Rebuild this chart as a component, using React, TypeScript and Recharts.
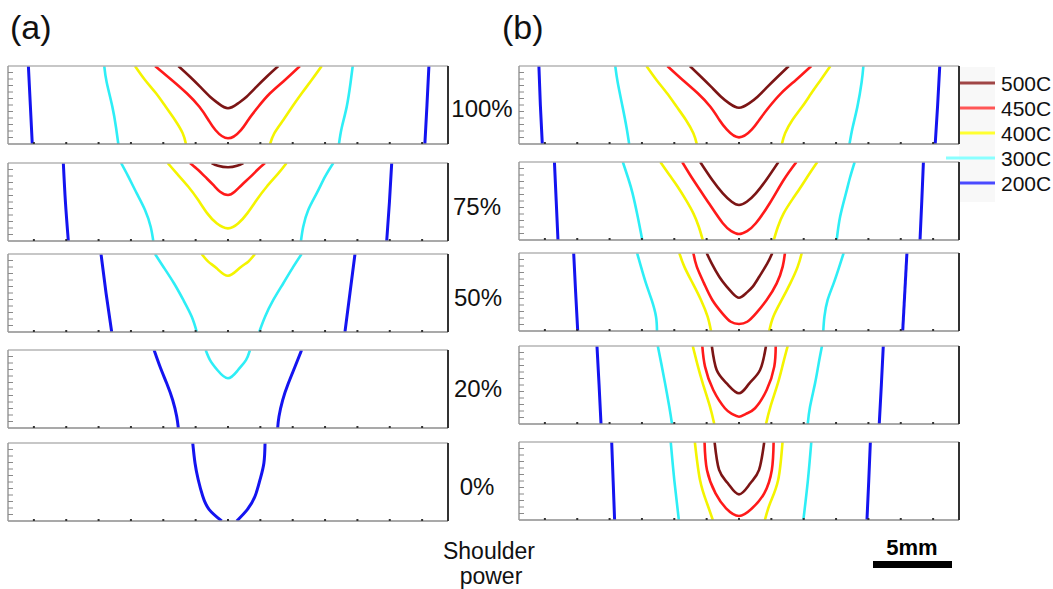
import React from 'react';
import { LineChart, Line, XAxis, YAxis } from 'recharts';

// One isotherm branch: x across the weld (mm, 0 = tool centre), d = depth below the top (mm)
type Contour = { level: string; x: number[]; d: number[] };

const levels = ['500C', '450C', '400C', '300C', '200C'];
const levelColors: Record<string, string> = {
  '500C': '#7c1515',
  '450C': '#ff1a1a',
  '400C': '#f4f400',
  '300C': '#2eeef6',
  '200C': '#1414f0',
};
const legendColors: Record<string, string> = {
  '500C': '#a04646',
  '450C': '#ff5656',
  '400C': '#ffff30',
  '300C': '#8affff',
  '200C': '#4a4aff',
};

const powerLabels = ['100%', '75%', '50%', '20%', '0%'];
const xTicks = [-12, -10, -8, -6, -4, -2, 0, 2, 4, 6, 8, 10, 12];
const depthTicks = [0.4, 0.8, 1.2, 1.6, 2.0, 2.4, 2.8, 3.2, 3.6, 4.0, 4.4];

// (a) column
const a100: Contour[] = [
  { level: '200C', x: [-12.34, -12.22, -12.1], d: [0, 2.4, 4.8] },
  { level: '200C', x: [12.42, 12.3, 12.17], d: [0, 2.4, 4.8] },
  { level: '300C', x: [-7.65, -7.5, -7.15, -6.92, -6.78], d: [0, 1.0, 2.5, 3.8, 4.8] },
  { level: '300C', x: [7.71, 7.58, 7.34, 7.03, 6.86], d: [0, 1.0, 2.5, 3.8, 4.8] },
  { level: '400C', x: [-5.75, -5.13, -4.45, -3.85, -3.28, -2.8, -2.6], d: [0, 0.86, 1.68, 2.51, 3.32, 4.14, 4.8] },
  { level: '400C', x: [5.79, 5.17, 4.56, 3.97, 3.42, 2.86, 2.6], d: [0, 0.86, 1.68, 2.51, 3.32, 4.14, 4.8] },
  { level: '450C', x: [-4.51, -3.48, -2.55, -1.77, -1.21, -0.78, 0, 0.8, 1.25, 1.87, 2.6, 3.52, 4.45], d: [0, 0.86, 1.68, 2.51, 3.32, 3.94, 4.45, 3.94, 3.32, 2.51, 1.68, 0.86, 0] },
  { level: '500C', x: [-3.07, -2.35, -1.73, -1.11, -0.6, 0, 0.62, 1.15, 1.77, 2.39, 3.11], d: [0, 0.66, 1.27, 1.89, 2.3, 2.6, 2.3, 1.89, 1.27, 0.66, 0] },
];

const a75: Contour[] = [
  { level: '200C', x: [-10.18, -10.05, -9.87], d: [0, 2.4, 4.8] },
  { level: '200C', x: [10.12, 9.98, 9.81], d: [0, 2.4, 4.8] },
  { level: '300C', x: [-6.61, -6.16, -5.64, -5.13, -4.78, -4.62], d: [0, 0.84, 1.87, 2.89, 3.92, 4.8] },
  { level: '300C', x: [6.51, 6.0, 5.48, 4.96, 4.65, 4.51], d: [0, 0.84, 1.87, 2.89, 3.92, 4.8] },
  { level: '400C', x: [-3.73, -3.17, -2.45, -1.84, -1.28, -0.7, 0, 0.64, 1.19, 1.77, 2.39, 3.11, 3.62], d: [0, 0.64, 1.46, 2.28, 3.1, 3.71, 4.02, 3.71, 3.1, 2.28, 1.46, 0.64, 0] },
  { level: '450C', x: [-2.35, -1.84, -1.42, -0.91, -0.49, 0, 0.41, 0.85, 1.4, 1.81, 2.29], d: [0, 0.43, 0.84, 1.35, 1.77, 1.97, 1.77, 1.35, 0.84, 0.43, 0] },
  { level: '500C', x: [-1.01, -0.62, 0, 0.56, 0.95], d: [0, 0.17, 0.26, 0.17, 0] },
];

const a50: Contour[] = [
  { level: '200C', x: [-7.85, -7.54, -7.19], d: [0, 2.4, 4.8] },
  { level: '200C', x: [7.85, 7.54, 7.23], d: [0, 2.4, 4.8] },
  { level: '300C', x: [-4.51, -4.0, -3.34, -2.76, -2.24, -1.93], d: [0, 0.78, 1.8, 2.83, 3.86, 4.8] },
  { level: '300C', x: [4.55, 4.04, 3.42, 2.8, 2.29, 1.93], d: [0, 0.78, 1.8, 2.83, 3.86, 4.8] },
  { level: '400C', x: [-1.63, -1.22, -0.7, 0, 0.7, 1.25, 1.67], d: [0, 0.47, 0.88, 1.34, 0.88, 0.47, 0] },
];

const a20: Contour[] = [
  { level: '200C', x: [-4.57, -4.2, -3.79, -3.42, -3.17, -3.07], d: [0, 1.03, 2.05, 3.08, 4.1, 4.8] },
  { level: '200C', x: [4.55, 4.14, 3.73, 3.38, 3.15, 3.07], d: [0, 1.03, 2.05, 3.08, 4.1, 4.8] },
  { level: '300C', x: [-1.38, -1.11, -0.66, 0, 0.62, 1.11, 1.36], d: [0, 0.62, 1.23, 1.74, 1.23, 0.62, 0] },
];

const a0: Contour[] = [
  { level: '200C', x: [-2.18, -2.04, -1.84, -1.56, -1.16, -0.39], d: [0, 1.23, 2.26, 3.28, 4.1, 4.8] },
  { level: '200C', x: [2.29, 2.22, 1.98, 1.67, 1.19, 0.54], d: [0, 1.23, 2.26, 3.28, 4.1, 4.8] },
];

// (b) column
const b100: Contour[] = [
  { level: '200C', x: [-12.37, -12.28, -12.16], d: [0, 2.4, 4.8] },
  { level: '200C', x: [12.41, 12.28, 12.13], d: [0, 2.4, 4.8] },
  { level: '300C', x: [-7.65, -7.5, -7.2, -6.95, -6.79], d: [0, 1.0, 2.5, 3.8, 4.8] },
  { level: '300C', x: [7.69, 7.58, 7.32, 7.02, 6.83], d: [0, 1.0, 2.5, 3.8, 4.8] },
  { level: '400C', x: [-5.72, -5.1, -4.45, -3.85, -3.28, -2.82, -2.61], d: [0, 0.86, 1.68, 2.51, 3.32, 4.14, 4.8] },
  { level: '400C', x: [5.65, 5.05, 4.47, 3.9, 3.3, 2.85, 2.65], d: [0, 0.86, 1.68, 2.51, 3.32, 4.14, 4.8] },
  { level: '450C', x: [-4.43, -3.48, -2.55, -1.77, -1.21, -0.76, 0, 0.8, 1.25, 1.87, 2.6, 3.52, 4.47], d: [0, 0.86, 1.68, 2.51, 3.32, 3.9, 4.39, 3.9, 3.32, 2.51, 1.68, 0.86, 0] },
  { level: '500C', x: [-3.04, -2.35, -1.73, -1.11, -0.6, 0, 0.62, 1.15, 1.77, 2.39, 3.08], d: [0, 0.66, 1.27, 1.89, 2.3, 2.57, 2.3, 1.89, 1.27, 0.66, 0] },
];

const b75: Contour[] = [
  { level: '200C', x: [-11.41, -11.3, -11.19], d: [0, 2.4, 4.8] },
  { level: '200C', x: [11.4, 11.3, 11.19], d: [0, 2.4, 4.8] },
  { level: '300C', x: [-7.18, -6.85, -6.58, -6.26, -5.98], d: [0, 1.0, 1.93, 3.37, 4.8] },
  { level: '300C', x: [7.15, 6.85, 6.61, 6.25, 6.04], d: [0, 1.0, 1.93, 3.37, 4.8] },
  { level: '400C', x: [-4.86, -4.3, -3.79, -3.3, -2.82, -2.48, -2.24], d: [0, 0.8, 1.52, 2.3, 3.16, 4.0, 4.8] },
  { level: '400C', x: [4.84, 4.3, 3.83, 3.3, 2.76, 2.4, 2.15], d: [0, 0.8, 1.52, 2.3, 3.16, 4.0, 4.8] },
  { level: '450C', x: [-3.51, -2.82, -1.86, -1.0, -0.48, 0, 0.5, 1.04, 1.9, 2.76, 3.55], d: [0, 1.11, 2.54, 3.77, 4.25, 4.43, 4.25, 3.77, 2.54, 1.11, 0] },
  { level: '500C', x: [-2.4, -1.65, -1.0, -0.45, 0, 0.48, 1.04, 1.68, 2.44], d: [0, 1.11, 1.93, 2.45, 2.65, 2.45, 1.93, 1.11, 0] },
];

const b50: Contour[] = [
  { level: '200C', x: [-10.22, -10.1, -9.97], d: [0, 2.4, 4.8] },
  { level: '200C', x: [10.38, 10.25, 10.12], d: [0, 2.4, 4.8] },
  { level: '300C', x: [-6.3, -6.06, -5.75, -5.4, -5.13, -5.07], d: [0, 0.84, 1.87, 2.89, 3.92, 4.8] },
  { level: '300C', x: [6.47, 6.2, 5.85, 5.48, 5.28, 5.21], d: [0, 0.84, 1.87, 2.89, 3.92, 4.8] },
  { level: '400C', x: [-3.69, -3.38, -2.86, -2.35, -1.94, -1.73], d: [0, 0.84, 1.87, 2.89, 3.92, 4.8] },
  { level: '400C', x: [3.88, 3.63, 3.17, 2.64, 2.12, 1.87], d: [0, 0.84, 1.87, 2.89, 3.92, 4.8] },
  { level: '450C', x: [-2.82, -2.61, -2.16, -1.65, -1.03, -0.51, 0, 0.51, 1.05, 1.71, 2.33, 2.7, 2.84], d: [0, 0.84, 1.87, 2.89, 3.71, 4.23, 4.37, 4.23, 3.71, 2.89, 1.87, 0.84, 0] },
  { level: '500C', x: [-2.0, -1.69, -1.22, -0.76, -0.39, 0, 0.43, 0.85, 1.25, 1.75, 2.06], d: [0, 0.64, 1.46, 2.07, 2.48, 2.75, 2.48, 2.07, 1.46, 0.64, 0] },
];

const b20: Contour[] = [
  { level: '200C', x: [-8.78, -8.65, -8.53], d: [0, 2.4, 4.8] },
  { level: '200C', x: [8.92, 8.8, 8.67], d: [0, 2.4, 4.8] },
  { level: '300C', x: [-5.02, -4.8, -4.57, -4.31, -4.14], d: [0, 1.1, 2.3, 3.74, 4.8] },
  { level: '300C', x: [5.13, 4.92, 4.7, 4.39, 4.25], d: [0, 1.1, 2.3, 3.74, 4.8] },
  { level: '400C', x: [-2.86, -2.58, -2.24, -1.79, -1.53], d: [0, 1.1, 2.3, 3.74, 4.8] },
  { level: '400C', x: [3.01, 2.72, 2.4, 1.94, 1.67], d: [0, 1.1, 2.3, 3.74, 4.8] },
  { level: '450C', x: [-2.27, -2.1, -1.59, -0.87, -0.43, 0, 0.43, 0.99, 1.71, 2.18, 2.27], d: [0, 1.27, 2.71, 3.83, 4.18, 4.35, 4.18, 3.83, 2.71, 1.27, 0] },
  { level: '500C', x: [-1.68, -1.38, -0.76, 0, 0.64, 1.3, 1.67], d: [0, 1.48, 2.3, 2.91, 2.3, 1.48, 0] },
];

const b0: Contour[] = [
  { level: '200C', x: [-7.87, -7.78, -7.69], d: [0, 2.4, 4.8] },
  { level: '200C', x: [8.12, 8.02, 7.91], d: [0, 2.4, 4.8] },
  { level: '300C', x: [-4.22, -4.0, -3.72], d: [0, 2.34, 4.8] },
  { level: '300C', x: [4.47, 4.26, 3.98], d: [0, 2.34, 4.8] },
  { level: '400C', x: [-2.73, -2.41, -1.98, -1.62], d: [0, 2.34, 3.77, 4.8] },
  { level: '400C', x: [2.69, 2.42, 1.92, 1.6], d: [0, 2.34, 3.77, 4.8] },
  { level: '450C', x: [-2.13, -1.98, -1.45, -0.8, 0, 0.81, 1.56, 2.03, 2.14], d: [0, 1.72, 3.16, 4.08, 4.55, 4.08, 3.16, 1.72, 0] },
  { level: '500C', x: [-1.51, -1.23, -0.69, 0, 0.7, 1.24, 1.56], d: [0, 1.72, 2.54, 3.22, 2.54, 1.72, 0] },
];

const columnA = [a100, a75, a50, a20, a0];
const columnB = [b100, b75, b50, b20, b0];

const PANEL_W = 440;
const PANEL_H = 78;
const PAD = 2;
const LEFT_A = 8;
const LEFT_B = 519;
const topsA = [66, 163, 254, 350, 443];
const topsB = [66, 162, 253, 346, 442];
const labelX = [482, 477, 478, 478, 477];
const labelBaseline = [117, 215, 306, 397, 495];

const FONT = '"Liberation Sans", Arial, Helvetica, sans-serif';

const toPoints = (c: Contour) => c.x.map((x, i) => ({ x, d: c.d[i] }));

// axes show tick marks only, no numbers
const noLabel = () => <g />;

function Panel({ left, top, contours }: { left: number; top: number; contours: Contour[] }) {
  // draw cooler isotherms first so the hot ones sit on top
  const ordered = [...contours].sort((p, q) => levels.indexOf(q.level) - levels.indexOf(p.level));
  return (
    <div style={{ position: 'absolute', left: left - PAD, top: top - PAD }}>
      <LineChart
        width={PANEL_W + PAD * 2}
        height={PANEL_H + PAD * 2}
        margin={{ top: PAD, right: PAD, bottom: PAD, left: PAD }}
      >
        <XAxis
          xAxisId="bottom"
          type="number"
          dataKey="x"
          domain={[-13.6, 13.6]}
          ticks={xTicks}
          interval={0}
          allowDataOverflow
          mirror
          tick={noLabel}
          tickSize={2}
          tickLine={{ stroke: '#333', strokeWidth: 2 }}
          axisLine={{ stroke: '#8c8c8c', strokeWidth: 1.5 }}
        />
        <XAxis
          xAxisId="top"
          orientation="top"
          type="number"
          dataKey="x"
          domain={[-13.6, 13.6]}
          mirror
          tick={false}
          tickLine={false}
          axisLine={{ stroke: '#b4b4b4', strokeWidth: 1.5 }}
        />
        <YAxis
          yAxisId="left"
          type="number"
          dataKey="d"
          domain={[0, 4.8]}
          reversed
          ticks={depthTicks}
          interval={0}
          allowDataOverflow
          mirror
          tick={noLabel}
          tickSize={5}
          tickLine={{ stroke: '#8a8a8a' }}
          axisLine={{ stroke: '#9a9a9a', strokeWidth: 1.5 }}
        />
        <YAxis
          yAxisId="right"
          orientation="right"
          type="number"
          dataKey="d"
          domain={[0, 4.8]}
          mirror
          tick={false}
          tickLine={false}
          axisLine={{ stroke: '#333', strokeWidth: 2 }}
        />
        {ordered.map((c, i) => (
          <Line
            key={i}
            xAxisId="bottom"
            yAxisId="left"
            data={toPoints(c)}
            dataKey="d"
            type="natural"
            stroke={levelColors[c.level]}
            strokeWidth={c.level === '200C' ? 3 : 2.6}
            dot={false}
            activeDot={false}
            isAnimationActive={false}
          />
        ))}
      </LineChart>
    </div>
  );
}

const legendRowY = [83, 108, 133, 158, 183];

export default function App() {
  return (
    <div
      style={{
        position: 'absolute',
        left: 0,
        top: 0,
        width: 1053,
        height: 589,
        background: '#fff',
        fontFamily: FONT,
        overflow: 'hidden',
      }}
    >
      <svg width={1053} height={589} style={{ position: 'absolute', left: 0, top: 0 }}>
        <text x={10} y={39} fontSize={34} fontFamily={FONT} fill="#111">(a)</text>
        <text x={502} y={39} fontSize={34} fontFamily={FONT} fill="#111">(b)</text>

        {powerLabels.map((p, i) => (
          <text key={p} x={labelX[i]} y={labelBaseline[i]} fontSize={24} textAnchor="middle" fontFamily={FONT} fill="#111">
            {p}
          </text>
        ))}

        <text x={489} y={559} fontSize={23} textAnchor="middle" fontFamily={FONT} fill="#111">Shoulder</text>
        <text x={491} y={584} fontSize={23} textAnchor="middle" fontFamily={FONT} fill="#111">power</text>

        {/* legend */}
        <rect x={959} y={67} width={36} height={135} fill="#f8f8f8" />
        {levels.map((lv, i) => (
          <g key={lv}>
            <line
              x1={lv === '300C' ? 946 : 960}
              x2={995}
              y1={legendRowY[i]}
              y2={legendRowY[i]}
              stroke={legendColors[lv]}
              strokeWidth={3}
            />
            <text x={1001} y={legendRowY[i] + 8} fontSize={21} fontFamily={FONT} fill="#111">
              {lv}
            </text>
          </g>
        ))}

        {/* scale bar */}
        <text x={912} y={555} fontSize={22} fontWeight="bold" textAnchor="middle" fontFamily={FONT} fill="#000">5mm</text>
        <rect x={873} y={561} width={79} height={7} fill="#000" />
      </svg>

      {columnA.map((c, i) => (
        <Panel key={`a${i}`} left={LEFT_A} top={topsA[i]} contours={c} />
      ))}
      {columnB.map((c, i) => (
        <Panel key={`b${i}`} left={LEFT_B} top={topsB[i]} contours={c} />
      ))}
    </div>
  );
}
